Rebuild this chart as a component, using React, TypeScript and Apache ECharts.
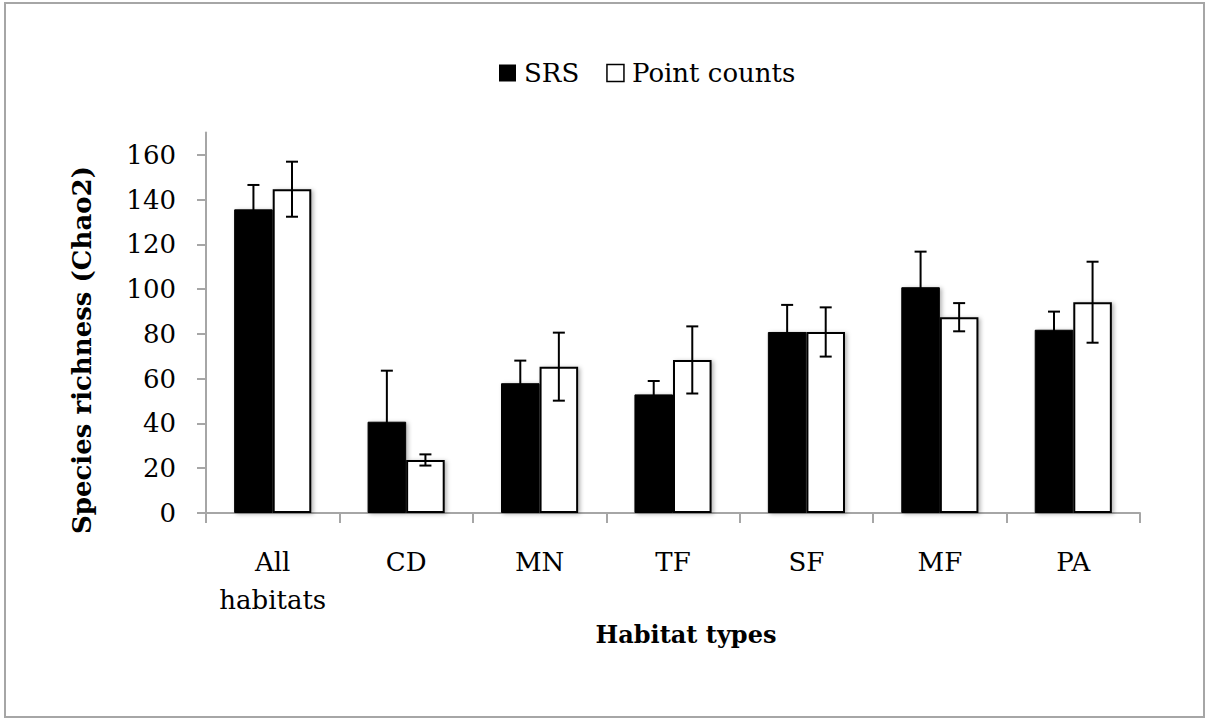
import React, { useEffect, useRef } from "react";
import * as echarts from "echarts";

const categories = ["All\nhabitats", "CD", "MN", "TF", "SF", "MF", "PA"];
const srsValues = [135.7, 40.8, 58.0, 53.0, 80.9, 100.9, 81.9];
const srsErrors = [10.9, 22.8, 10.1, 6.0, 12.1, 15.9, 8.1];
const pcValues = [144.7, 23.7, 65.4, 68.4, 80.9, 87.5, 94.2];
const pcErrors = [12.3, 2.5, 15.2, 15.0, 11.0, 6.3, 18.1];
const yTicks = [0, 20, 40, 60, 80, 100, 120, 140, 160];
const yTitle = "Species richness (Chao2)";
const xTitle = "Habitat types";

const FONT = "DejaVu Serif";
const BAR_FRAC = 0.289;

function errorSeries(name: string, values: number[], errs: number[], side: number) {
  return {
    type: "custom",
    name,
    z: 5,
    silent: true,
    encode: { x: 0, y: 1 },
    data: values.map((v, i) => [i, v, errs[i]]),
    renderItem: (params: any, api: any) => {
      const ci = api.value(0);
      const v = api.value(1);
      const e = api.value(2);
      const cw = api.size([1, 0])[0];
      const center = api.coord([ci, v]);
      const x = center[0] + side * cw * BAR_FRAC * 0.5;
      const top = api.coord([ci, v + e])[1];
      const bot = api.coord([ci, v - e])[1];
      const cap = 6;
      const style = { stroke: "#000", lineWidth: 2 };
      return {
        type: "group",
        children: [
          { type: "line", shape: { x1: x, y1: top, x2: x, y2: bot }, style },
          { type: "line", shape: { x1: x - cap, y1: top, x2: x + cap, y2: top }, style },
          { type: "line", shape: { x1: x - cap, y1: bot, x2: x + cap, y2: bot }, style },
        ],
      };
    },
  };
}

export default function App() {
  const ref = useRef<HTMLDivElement>(null);
  useEffect(() => {
    if (!ref.current) return;
    const chart = echarts.init(ref.current, undefined, { renderer: "svg" });
    const axisColor = "#a6a6a6";
    const shadow = {
      shadowColor: "rgba(0,0,0,0.3)",
      shadowBlur: 4,
      shadowOffsetX: 2,
      shadowOffsetY: 1,
    };
    chart.setOption({
      animation: false,
      backgroundColor: "#fff",
      textStyle: { fontFamily: FONT, color: "#000" },
      graphic: [
        {
          type: "rect",
          shape: { x: 5, y: 3, width: 1199, height: 714 },
          style: { fill: "none", stroke: axisColor, lineWidth: 2 },
          silent: true,
        },
        {
          type: "text",
          x: 82,
          y: 350,
          rotation: Math.PI / 2,
          style: {
            text: yTitle,
            fontFamily: FONT,
            fontSize: 26,
            fontWeight: "bold",
            fill: "#000",
            align: "center",
            verticalAlign: "middle",
          },
          silent: true,
        },
        {
          type: "text",
          x: 686,
          y: 634,
          style: {
            text: xTitle,
            fontFamily: FONT,
            fontSize: 24,
            fontWeight: "bold",
            fill: "#000",
            align: "center",
            verticalAlign: "middle",
          },
          silent: true,
        },
      ],
      legend: {
        left: 494,
        top: 55,
        itemWidth: 17,
        itemHeight: 17,
        itemGap: 27,
        icon: "rect",
        textStyle: { fontFamily: FONT, fontSize: 26, color: "#000", padding: [0, 0, 0, 3] },
        data: [
          { name: "SRS", itemStyle: { color: "#000", borderColor: "#000", borderWidth: 0, shadowBlur: 0, shadowOffsetX: 0, shadowOffsetY: 0 } },
          { name: "Point counts", itemStyle: { color: "#fff", borderColor: "#000", borderWidth: 1.5, shadowBlur: 0, shadowOffsetX: 0, shadowOffsetY: 0 } },
        ],
      },
      grid: { left: 206, right: 65, top: 132.6, bottom: 208, containLabel: false },
      xAxis: {
        type: "category",
        data: categories,
        boundaryGap: true,
        axisLine: { show: true, lineStyle: { color: axisColor, width: 2 } },
        axisTick: { show: true, interval: 0, length: 10, lineStyle: { color: axisColor, width: 2 } },
        axisLabel: {
          interval: 0,
          margin: 30,
          fontFamily: FONT,
          fontSize: 26,
          lineHeight: 38,
          color: "#000",
        },
        splitLine: { show: false },
      },
      yAxis: {
        type: "value",
        min: 0,
        max: 170,
        interval: 20,
        axisLine: { show: true, lineStyle: { color: axisColor, width: 2 } },
        axisTick: { show: true, length: 9, customValues: yTicks, lineStyle: { color: axisColor, width: 2 } },
        axisLabel: {
          customValues: yTicks,
          margin: 30,
          fontFamily: FONT,
          fontSize: 26,
          color: "#000",
        },
        splitLine: { show: false },
      },
      series: [
        {
          type: "bar",
          name: "SRS",
          data: srsValues,
          barWidth: "28.9%",
          barGap: "0%",
          itemStyle: { color: "#000", borderColor: "#000", borderWidth: 1, ...shadow },
        },
        {
          type: "bar",
          name: "Point counts",
          data: pcValues,
          barWidth: "28.9%",
          barGap: "0%",
          itemStyle: { color: "#fff", borderColor: "#000", borderWidth: 2, ...shadow },
        },
        errorSeries("SRS err", srsValues, srsErrors, -1),
        errorSeries("PC err", pcValues, pcErrors, 1),
      ],
    });
    return () => chart.dispose();
  }, []);
  return (
    <div
      ref={ref}
      style={{ position: "absolute", left: 0, top: 0, width: 1205, height: 721 }}
    />
  );
}
